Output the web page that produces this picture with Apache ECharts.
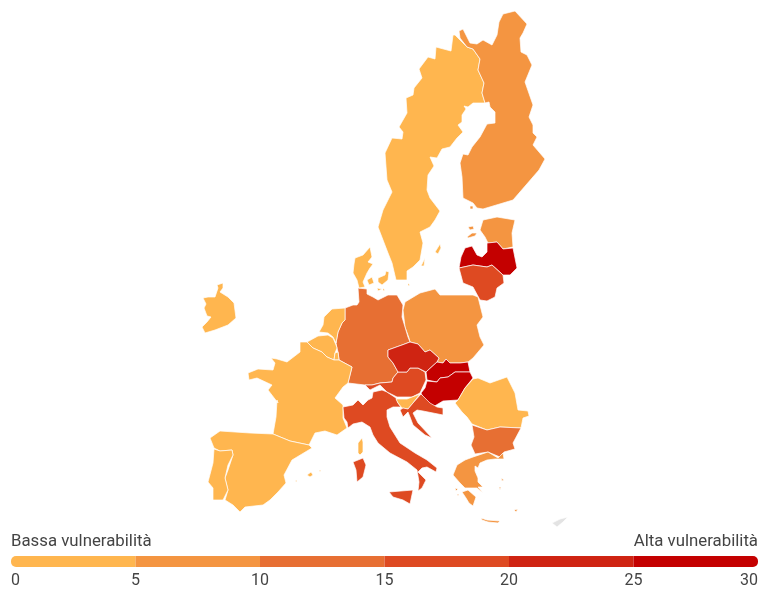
<!DOCTYPE html>
<html>
<head>
<meta charset="utf-8">
<title>Vulnerabilità</title>
<script src="https://cdn.jsdelivr.net/npm/echarts@6/dist/echarts.min.js"></script>
<style>
  html, body { margin: 0; padding: 0; background: #fff; }
  #main { width: 768px; height: 594px; }
</style>
</head>
<body>
<div id="main"></div>
<script>
var countries = ['Svezia', 'Finlandia', 'Estonia', 'Lettonia', 'Lituania', 'Polonia', 'Germania', 'Danimarca',
  'Paesi Bassi', 'Belgio', 'Lussemburgo', 'Francia', 'Spagna', 'Portogallo', 'Irlanda', 'Italia', 'Austria',
  'Rep. Ceca', 'Slovacchia', 'Ungheria', 'Slovenia', 'Croazia', 'Romania', 'Bulgaria', 'Grecia'];
var vulnerability = [3, 7, 8, 27, 17, 8, 13, 2, 3, 4, 2, 4, 4, 3, 3, 17, 16, 22, 26, 28, 3, 17, 3, 12, 8];

var classBreaks = [0, 5, 10, 15, 20, 25, 30];
var classColors = ['#ffb64f', '#f49541', '#e76f33', '#de4a22', '#cf2412', '#c40000'];
var lowLabel = 'Bassa vulnerabilità';
var highLabel = 'Alta vulnerabilità';

// contorni tracciati a mano dalla cartina, in unita' x / y della mappa
var outlines = {
  'Svezia': [[[455,35],[467,47],[473,49],[480,59],[478,70],[484,83],[482,93],[485,103],[473,103],[468,107],[464,106],[466,109],[462,115],[462,122],[458,125],[463,132],[457,138],[450,147],[442,149],[437,158],[430,157],[434,166],[428,175],[427,190],[430,198],[440,211],[435,220],[430,227],[420,232],[423,243],[420,260],[413,267],[407,271],[407,280],[396,280],[392,263],[388,253],[383,240],[378,227],[383,210],[392,192],[387,180],[385,153],[392,138],[402,139],[403,132],[399,127],[407,113],[406,98],[413,95],[414,88],[422,78],[419,69],[428,57],[435,59],[436,47],[451,51],[453,35]],
    [[435,252],[440,244],[441,248],[438,254]], [[421,266],[425,258],[424,266]]],
  'Finlandia': [[[515,11],[503,14],[499,22],[497,35],[492,45],[483,40],[477,44],[470,43],[463,29],[459,31],[460,38],[467,47],[473,49],[480,59],[478,70],[484,83],[482,93],[485,103],[489,102],[490,107],[495,112],[495,123],[487,124],[480,137],[472,147],[468,155],[463,154],[460,163],[462,177],[463,198],[473,203],[477,208],[483,209],[503,203],[513,200],[539,170],[545,159],[533,145],[537,137],[533,133],[533,125],[529,117],[533,105],[525,82],[532,65],[527,55],[521,52],[520,38],[523,33],[527,24]],
    [[470,206],[473,206],[473,209],[470,209]]],
  'Estonia': [[[497,217],[515,220],[512,233],[513,247],[503,249],[497,242],[488,243],[485,237],[480,230],[483,220]],
    [[467,237],[472,233],[477,233],[475,236],[468,238]], [[468,227],[473,226],[474,229],[470,230]]],
  'Lettonia': [[[459,268],[461,257],[465,248],[472,246],[477,255],[482,257],[487,252],[487,243],[497,242],[503,249],[513,248],[515,258],[517,268],[510,275],[503,275],[492,265],[487,267],[473,265]]],
  'Lituania': [[[459,268],[473,265],[487,267],[492,265],[503,275],[504,283],[497,288],[495,297],[487,301],[480,300],[473,287],[463,283]]],
  'Polonia': [[[405,302],[420,293],[435,289],[440,295],[473,295],[478,297],[483,317],[477,325],[480,337],[484,345],[473,358],[468,362],[460,363],[450,363],[446,359],[443,363],[437,362],[439,358],[430,350],[425,352],[418,344],[410,342],[409,338],[405,327],[403,310]]],
  'Germania': [[[358,288],[367,289],[367,294],[373,297],[378,300],[388,295],[397,295],[403,305],[402,317],[408,337],[410,342],[402,345],[388,350],[388,357],[393,363],[398,372],[393,378],[392,382],[380,383],[372,385],[365,385],[348,383],[352,367],[339,360],[338,352],[337,348],[336,343],[338,332],[342,323],[345,320],[345,308],[353,305],[357,305],[359,302]]],
  'Danimarca': [[[354,264],[355,258],[363,255],[370,247],[372,257],[368,262],[373,264],[370,268],[367,273],[363,282],[365,287],[359,288],[357,280],[353,273]],
    [[378,278],[385,275],[386,271],[389,272],[388,280],[382,285],[378,282]], [[367,280],[372,277],[374,283],[369,285]], [[377,288],[382,289],[378,291]], [[383,288],[385,290],[383,291]], [[408,283],[410,285],[408,286]]],
  'Paesi Bassi': [[[345,308],[332,309],[324,317],[323,325],[319,332],[328,333],[333,337],[336,343],[338,332],[342,323],[345,320]]],
  'Belgio': [[[307,342],[318,336],[328,335],[333,338],[336,345],[337,348],[335,353],[334,360],[327,357],[322,352],[313,348]]],
  'Lussemburgo': [[[335,353],[338,352],[339,360],[334,360]]],
  'Francia': [[[300,342],[307,342],[313,348],[322,352],[327,357],[334,360],[339,360],[352,367],[348,383],[343,387],[335,398],[343,405],[343,418],[347,428],[337,435],[325,431],[315,433],[309,445],[290,441],[273,434],[276,417],[277,400],[278,403],[268,390],[272,385],[257,378],[249,380],[248,373],[258,369],[273,370],[275,363],[271,358],[277,359],[287,362],[300,352]],
    [[358,443],[362,438],[363,442],[363,452],[360,455],[358,453]]],
  'Spagna': [[[273,434],[290,441],[309,445],[312,448],[292,460],[284,475],[286,483],[278,492],[270,500],[263,505],[245,507],[240,512],[233,505],[225,500],[228,490],[225,478],[228,470],[233,455],[232,450],[220,451],[214,448],[210,438],[220,431],[235,432],[250,433]],
    [[307,475],[311,472],[313,475],[310,477]], [[319,470],[321,470],[320,472]], [[295,481],[297,480],[297,482]]],
  'Portogallo': [[[214,449],[220,451],[232,450],[233,455],[228,465],[225,478],[228,490],[223,500],[213,500],[213,488],[208,482],[213,463]]],
  'Irlanda': [[[217,285],[223,283],[223,288],[220,292],[228,297],[234,303],[236,318],[228,325],[215,330],[205,333],[202,327],[207,322],[211,317],[207,316],[204,308],[206,304],[203,298],[208,297],[215,297],[218,288]]],
  'Italia': [[[343,407],[353,405],[358,400],[363,405],[368,400],[372,398],[373,392],[382,390],[387,392],[396,398],[398,403],[401,407],[393,407],[387,410],[387,417],[390,427],[400,443],[415,453],[427,460],[437,468],[436,472],[427,467],[422,468],[418,472],[426,480],[422,488],[418,491],[417,490],[419,482],[417,470],[407,462],[390,453],[378,443],[373,435],[370,427],[362,422],[353,424],[348,428],[347,422],[344,418]],
    [[389,492],[413,490],[410,504],[403,500],[393,497]], [[353,462],[363,458],[366,465],[363,477],[357,482],[356,470]]],
  'Austria': [[[398,372],[407,372],[410,368],[418,368],[425,372],[426,380],[420,393],[412,397],[397,397],[387,392],[387,391],[380,385],[370,390],[365,385],[372,385],[380,383],[392,382],[393,378]]],
  'Rep. Ceca': [[[388,350],[402,345],[410,342],[418,344],[425,352],[430,350],[439,358],[437,362],[426,372],[425,372],[418,368],[410,368],[407,372],[398,372],[393,363],[388,357]]],
  'Slovacchia': [[[426,372],[437,362],[443,363],[446,359],[450,363],[460,363],[468,362],[470,372],[455,372],[448,377],[440,378],[437,382],[427,380]]],
  'Ungheria': [[[427,381],[437,382],[440,378],[448,377],[455,372],[470,372],[473,378],[465,388],[458,400],[443,401],[433,407],[425,402],[421,393],[425,388]]],
  'Slovenia': [[[396,399],[407,399],[420,394],[413,403],[408,409],[402,408],[398,403]]],
  'Croazia': [[[421,394],[430,403],[437,407],[443,408],[443,415],[433,413],[423,411],[417,410],[413,413],[418,423],[432,438],[425,435],[413,425],[410,417],[408,412],[403,417],[400,410],[403,408],[408,409],[413,403]]],
  'Romania': [[[455,403],[458,400],[465,388],[473,379],[478,378],[490,383],[507,377],[515,393],[518,410],[528,411],[529,416],[523,418],[521,428],[500,427],[487,430],[472,424],[467,417],[462,412]]],
  'Bulgaria': [[[472,425],[487,430],[500,427],[521,428],[513,443],[515,449],[504,452],[500,457],[488,452],[475,454],[471,445],[474,437]]],
  'Grecia': [[[473,457],[488,452],[498,458],[503,453],[504,459],[495,459],[487,460],[480,463],[478,468],[475,466],[475,471],[478,478],[478,482],[483,487],[478,487],[483,493],[477,488],[465,488],[460,483],[453,475],[457,465],[465,460]],
    [[462,492],[468,490],[476,497],[473,506],[469,503],[466,498]],
    [[481,518],[487,520],[500,521],[498,523],[488,522],[482,520]],
    [[501,478],[504,480],[502,481]], [[499,487],[501,487],[500,490]], [[455,488],[458,489],[456,491]], [[457,494],[459,494],[458,496]], [[514,510],[518,509],[516,512]]],
  'Cipro nord': [[[552,523],[560,519],[568,517],[563,522],[557,527]]]
};

// da x / y a GeoJSON: ECharts inverte la latitudine
function toGeoJson(shapes) {
  var features = Object.keys(shapes).map(function (name) {
    return {
      type: 'Feature',
      properties: { name: name },
      geometry: {
        type: 'MultiPolygon',
        coordinates: shapes[name].map(function (ring) {
          return [ring.map(function (p) { return [p[0], -p[1]]; })];
        })
      }
    };
  });
  return { type: 'FeatureCollection', features: features };
}

echarts.registerMap('eu', toGeoJson(outlines));

var mapData = countries.map(function (name, i) {
  return { name: name, value: vulnerability[i] };
});

var pieces = classColors.map(function (color, i) {
  return { gte: classBreaks[i], lt: classBreaks[i + 1], color: color };
});

var scaleSeries = classColors.map(function (color, i) {
  var radius = [0, 0, 0, 0];
  if (i === 0) radius = [5, 0, 0, 5];
  if (i === classColors.length - 1) radius = [0, 5, 5, 0];
  return {
    type: 'bar',
    stack: 'scala',
    xAxisIndex: 0,
    yAxisIndex: 0,
    barWidth: '100%',
    silent: true,
    data: [classBreaks[i + 1] - classBreaks[i]],
    itemStyle: { color: color, borderRadius: radius }
  };
});

var chart = echarts.init(document.getElementById('main'), null, { renderer: 'canvas' });

chart.setOption({
  animation: false,
  backgroundColor: '#fff',
  textStyle: { fontFamily: 'Roboto' },
  title: [
    { text: lowLabel, left: 11, top: 533, padding: 0, textStyle: { fontFamily: 'Roboto', fontSize: 16.8, fontWeight: 'normal', color: '#444' } },
    { text: highLabel, right: 10, top: 533, padding: 0, textStyle: { fontFamily: 'Roboto', fontSize: 16.8, fontWeight: 'normal', color: '#444' } }
  ],
  visualMap: { type: 'piecewise', show: false, seriesIndex: 0, pieces: pieces },
  grid: { left: 11, right: 10, top: 556, height: 11 },
  xAxis: {
    type: 'value',
    min: classBreaks[0],
    max: classBreaks[classBreaks.length - 1],
    interval: 5,
    axisLine: { show: false },
    axisTick: { show: false },
    splitLine: { show: false },
    axisLabel: {
      margin: 6,
      fontFamily: 'Roboto',
      fontSize: 16,
      color: '#444',
      alignMinLabel: 'left',
      alignMaxLabel: 'right'
    }
  },
  yAxis: { type: 'category', data: ['scala'], show: false },
  series: [{
    type: 'map',
    map: 'eu',
    aspectScale: 1,
    roam: false,
    left: 0,
    top: 0,
    width: 768,
    height: 594,
    boundingCoords: [[0, 0], [768, -594]],
    data: mapData,
    label: { show: false },
    itemStyle: { areaColor: '#e3e3e3', borderColor: '#fff', borderWidth: 0.7 },
    emphasis: { disabled: true },
    select: { disabled: true }
  }].concat(scaleSeries)
});
</script>
</body>
</html>
